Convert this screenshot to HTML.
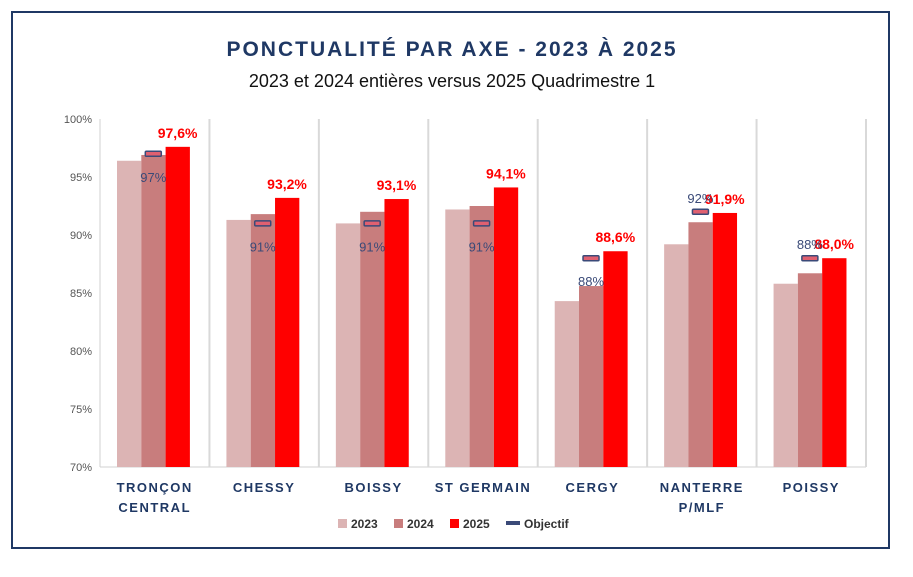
<!DOCTYPE html>
<html><head><meta charset="utf-8"><style>
body{margin:0;background:#fff;font-family:"Liberation Sans",sans-serif}
</style></head><body>
<svg width="913" height="572" xmlns="http://www.w3.org/2000/svg">
<rect x="0" y="0" width="913" height="572" fill="#fff"/>
<rect x="12" y="12" width="877" height="536" fill="none" stroke="#1f3864" stroke-width="2"/>
<text x="452" y="56" text-anchor="middle" font-size="21" font-weight="bold" fill="#1f3864" letter-spacing="2">PONCTUALITÉ PAR AXE - 2023 À 2025</text>
<text x="452" y="87" text-anchor="middle" font-size="18" fill="#111">2023 et 2024 entières versus 2025 Quadrimestre 1</text>
<g id="g"></g>
</svg>
<script>
const categories=[["TRONÇON","CENTRAL"],["CHESSY"],["BOISSY"],["ST GERMAIN"],["CERGY"],["NANTERRE","P/MLF"],["POISSY"]];
const v2023=[96.4,91.3,91.0,92.2,84.3,89.2,85.8];
const v2024=[96.9,91.8,92.0,92.5,85.6,91.1,86.7];
const v2025=[97.6,93.2,93.1,94.1,88.6,91.9,88.0];
const labels2025=["97,6%","93,2%","93,1%","94,1%","88,6%","91,9%","88,0%"];
const objectif=[97,91,91,91,88,92,88];
const objLabels=["97%","91%","91%","91%","88%","92%","88%"];
const objAbove=[false,false,false,false,false,true,true];
const yTicks=[70,75,80,85,90,95,100];
const NS="http://www.w3.org/2000/svg";
const g=document.getElementById('g');
const X0=100,X1=866,Y0=467,Y1=119,YMIN=70,YMAX=100;
const cw=(X1-X0)/categories.length;
const y=v=>Y0-(v-YMIN)/(YMAX-YMIN)*(Y0-Y1);
const bx=(i,k)=>X0+i*cw+17+k*24.3;
function el(t,a,txt){const e=document.createElementNS(NS,t);for(const k in a)e.setAttribute(k,a[k]);if(txt!=null)e.textContent=txt;g.appendChild(e);return e;}
let e;
e=el('line',{x1:X0,y1:Y1,x2:X0,y2:Y0,stroke:'#d0d0d0'});


yTicks.forEach(t=>{
 e=el('text',{x:X0-8,y:y(t)+4,'text-anchor':'end','font-size':11,fill:'#555'},t+'%');
 
 
});
e=el('line',{x1:X0,y1:Y0,x2:X1,y2:Y0,stroke:'#d0d0d0'});


for(let i=1;i<=categories.length;i++){
 e=el('line',{x1:X0+i*cw,y1:Y1,x2:X0+i*cw,y2:Y0,stroke:'#d9d9d9','stroke-width':2});
 
 
}
const series=[[v2023,'#dcb4b4','bar-2023'],[v2024,'#c87d7d','bar-2024'],[v2025,'#ff0000','bar-2025']];
categories.forEach((c,i)=>{
 series.forEach((s,k)=>{
  e=el('rect',{x:bx(i,k),y:y(s[0][i]),width:24.3,height:Y0-y(s[0][i]),fill:s[1]});
  
  
 });
 e=el('text',{x:bx(i,2)+12,y:y(v2025[i])-9,'text-anchor':'middle','font-size':14,'font-weight':'bold',fill:'#ff0000'},labels2025[i]);
 
 
 const oy=y(objectif[i]);
 e=el('rect',{x:bx(i,1)+4,y:oy-2.5,width:16,height:5,fill:'#e06070',stroke:'#3a4a78','stroke-width':1.5,rx:1});
 
 
 e=el('text',{x:bx(i,1)+12,y:objAbove[i]?oy-9:oy+28,'text-anchor':'middle','font-size':13,fill:'#3a4a78'},objLabels[i]);
 
 
 c.forEach((ln,j)=>{
  e=el('text',{x:X0+(i+0.5)*cw,y:492+j*20,'text-anchor':'middle','font-size':13,'font-weight':'bold',fill:'#1f3864','letter-spacing':1.5},ln);
  
  
 });
});
const leg=[['2023','#dcb4b4',338],['2024','#c87d7d',394],['2025','#ff0000',450]];
leg.forEach(l=>{
 e=el('rect',{x:l[2],y:519,width:9,height:9,fill:l[1]});
 
 
 e=el('text',{x:l[2]+13,y:528,'font-size':12,'font-weight':'bold',fill:'#333'},l[0]);
 
 
});
e=el('rect',{x:506,y:521,width:14,height:4,fill:'#3a4a78'});


e=el('text',{x:524,y:528,'font-size':12,'font-weight':'bold',fill:'#333'},'Objectif');


</script>
</body></html>
